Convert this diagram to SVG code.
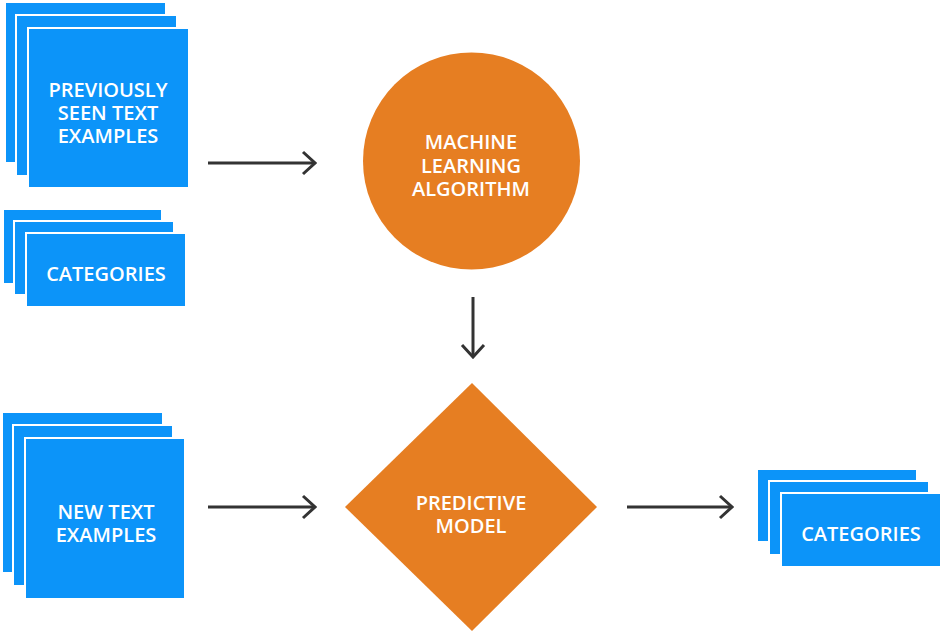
<svg xmlns="http://www.w3.org/2000/svg" width="943" height="636" viewBox="0 0 943 636">
<style>
.card{fill:#0C94F9;stroke:#ffffff;stroke-width:2}
.org{fill:#E67E22}
.lbl{font-family:"Open Sans","Noto Sans","Liberation Sans",sans-serif;font-weight:600;font-size:20px;fill:#ffffff;text-anchor:middle}
.conn{stroke:#333333;stroke-width:3;fill:none}
</style>
<defs>
<marker id="chev" viewBox="0 0 16 26" refX="14" refY="13" markerWidth="16" markerHeight="26" markerUnits="userSpaceOnUse" orient="auto">
<path d="M2 2 L14 13 L2 24" fill="none" stroke="#333333" stroke-width="3"/>
</marker>
</defs>
<rect width="943" height="636" fill="#ffffff"/>
<g id="prev-examples">
<rect class="card" x="5" y="2" width="161" height="161"/>
<rect class="card" x="16" y="15" width="161" height="161"/>
<rect class="card" x="28" y="28" width="161" height="160"/>
<text class="lbl" x="108" y="97">PREVIOUSLY</text>
<text class="lbl" x="108" y="120">SEEN TEXT</text>
<text class="lbl" x="108" y="143">EXAMPLES</text>
</g>
<g id="categories-in">
<rect class="card" x="3" y="209" width="159" height="75"/>
<rect class="card" x="14" y="221" width="160" height="74"/>
<rect class="card" x="26" y="233" width="160" height="74"/>
<text class="lbl" x="106" y="281">CATEGORIES</text>
</g>
<g id="new-examples">
<rect class="card" x="2" y="412" width="161" height="161"/>
<rect class="card" x="13" y="425" width="160" height="161"/>
<rect class="card" x="25" y="438" width="160" height="161"/>
<text class="lbl" x="106" y="519">NEW TEXT</text>
<text class="lbl" x="106" y="542">EXAMPLES</text>
</g>
<g id="ml-algorithm">
<circle class="org" cx="471.5" cy="161" r="108.5"/>
<text class="lbl" x="471" y="149">MACHINE</text>
<text class="lbl" x="471" y="173">LEARNING</text>
<text class="lbl" x="471" y="196">ALGORITHM</text>
</g>
<g id="predictive-model">
<polygon class="org" points="472,383 597,507 472,631 345,507"/>
<text class="lbl" x="471" y="510">PREDICTIVE</text>
<text class="lbl" x="471" y="533">MODEL</text>
</g>
<g id="categories-out">
<rect class="card" x="757" y="469" width="160" height="73"/>
<rect class="card" x="769" y="481" width="160" height="74"/>
<rect class="card" x="781" y="493" width="160" height="74"/>
<text class="lbl" x="861" y="541">CATEGORIES</text>
</g>
<g id="connectors">
<line class="conn" x1="208" y1="163" x2="315" y2="163" marker-end="url(#chev)"/>
<line class="conn" x1="473" y1="297" x2="473" y2="357" marker-end="url(#chev)"/>
<line class="conn" x1="208" y1="507" x2="315" y2="507" marker-end="url(#chev)"/>
<line class="conn" x1="627" y1="507" x2="732" y2="507" marker-end="url(#chev)"/>
</g>
</svg>
